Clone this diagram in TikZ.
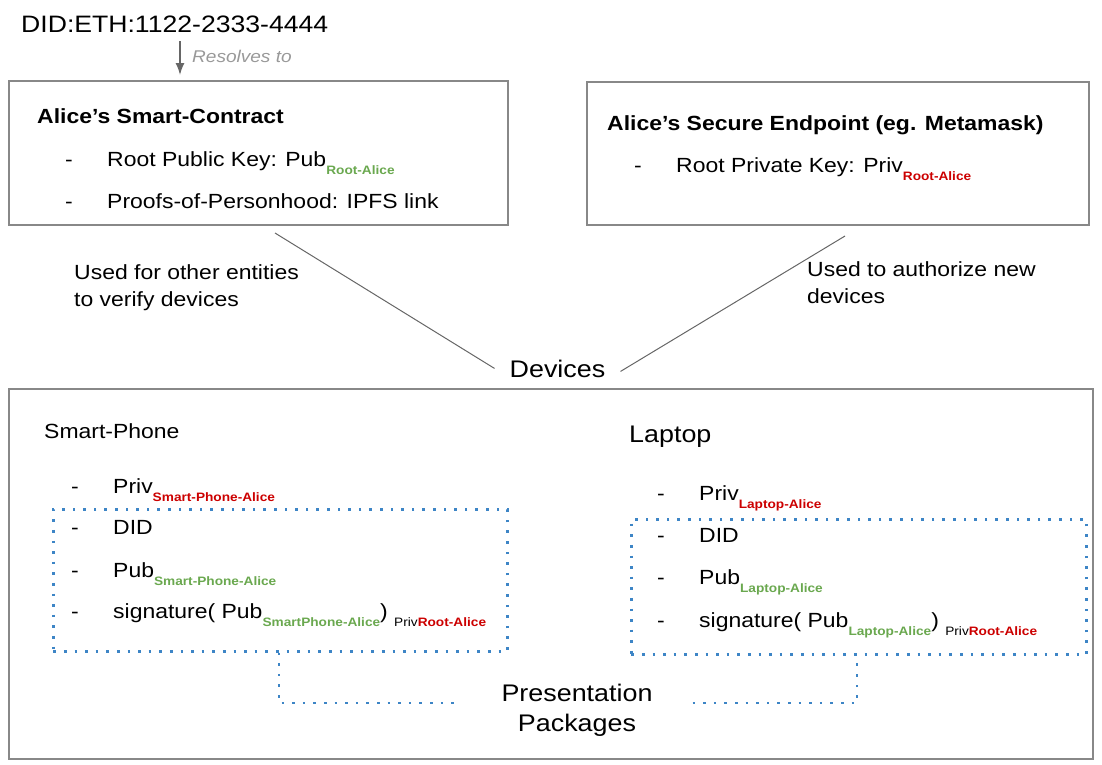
\documentclass[tikz,border=0pt]{standalone}
\usepackage{fontspec}
\setmainfont{Liberation Sans}[FakeStretch=1.12]
\usetikzlibrary{arrows.meta}
\definecolor{boxgray}{HTML}{888888}
\definecolor{linegray}{HTML}{666666}
\definecolor{resolvegray}{HTML}{999999}
\definecolor{keyred}{HTML}{CC0000}
\definecolor{keygreen}{HTML}{6AA84F}
\definecolor{packblue}{HTML}{3D85C6}
\newcommand{\myfont}[1]{\fontsize{#1}{#1}\selectfont}
\newcommand{\mydash}{\makebox[42pt][l]{-}}
\newcommand{\mypriv}[1]{\raisebox{-8.5pt}{\myfont{12.2}\bfseries\color{keyred}#1}}
\newcommand{\mypub}[1]{\raisebox{-8.5pt}{\myfont{12.2}\bfseries\color{keygreen}#1}}
\newcommand{\mysigned}{\raisebox{-8.5pt}{\myfont{12.2}Priv\textbf{\color{keyred}Root-Alice}}}
\tikzset{
    node style box/.style={draw=boxgray,line width=1.5pt,anchor=north west,inner sep=0pt},
    node style pack/.style={draw=packblue,line width=2.6pt,dash pattern=on 2.6pt off 8pt,anchor=north west,inner sep=0pt},
    node style txt/.style={anchor=base west,inner sep=0pt,font=\myfont{20.5}},
    node style big/.style={anchor=base west,inner sep=0pt,font=\myfont{24}},
    line style link/.style={draw=linegray,line width=1pt},
    line style pack/.style={draw=packblue,line width=2.6pt,dash pattern=on 2.6pt off 8pt},
}

\begin{document}
\begin{tikzpicture}[x=1pt,y=-1pt]
\useasboundingbox (0,0) rectangle (1102,764);
% the boxes
\node[node style box,minimum width=499pt,minimum height=144pt] (contract) at (8,80) {};
\node[node style box,minimum width=502pt,minimum height=143pt] (endpoint) at (586,81) {};
\node[node style box,minimum width=1084pt,minimum height=370pt] (devbox) at (8,388) {};
\node[node style pack,minimum width=454pt,minimum height=142pt] (phonepk) at (52,508) {};
\node[node style pack,minimum width=455pt,minimum height=135pt] (laptoppk) at (630,518) {};

% identifier
\node[node style big,font=\myfont{23.75}] (did) at (21,32) {DID:ETH:1122-2333-4444};
\coordinate (resolve) at (180,41);
\draw[linegray,line width=1.5pt,-{Latex[length=12pt,width=9pt]}] (resolve) -- ([xshift=172pt,yshift=5pt]contract.north west);
\node[node style txt,font=\myfont{17}\itshape,text=resolvegray] (res) at (192,62) {Resolves to};

% smart contract
\node[node style txt,font=\myfont{20.5}\bfseries] (contract title) at (37,123) {Alice’s Smart-Contract};
\node[node style txt] (contract pub) at (65,166) {\mydash Root Public Key: Pub\mypub{Root-Alice}};
\node[node style txt] (contract pop) at (65,208) {\mydash Proofs-of-Personhood: IPFS link};

% secure endpoint
\node[node style txt,font=\myfont{20.5}\bfseries] (endpoint title) at (607,130) {Alice’s Secure Endpoint (eg. Metamask)};
\node[node style txt] (endpoint priv) at (634,172) {\mydash Root Private Key: Priv\mypriv{Root-Alice}};

% links to devices
\node[font=\myfont{24},anchor=base,inner xsep=15pt,inner ysep=0pt] (dev) at (557.5,377) {Devices};
\coordinate (link left) at (275,233);
\coordinate (link right) at (845,236);
\draw[line style link] (link left) -- (dev.west);
\draw[line style link] (link right) -- ([yshift=-3pt]dev.east);
\node[node style txt] (verify a) at (74,279) {Used for other entities};
\node[node style txt] (verify b) at (74,306) {to verify devices};
\node[node style txt] (auth a) at (807,276) {Used to authorize new};
\node[node style txt] (auth b) at (807,303) {devices};

% smart-phone
\node[node style txt] (sp) at (44,438) {Smart-Phone};
\node[node style txt] (sp priv) at (71,493) {\mydash Priv\mypriv{Smart-Phone-Alice}};
\node[node style txt] (sp did) at (71,534) {\mydash DID};
\node[node style txt] (sp pub) at (71,577) {\mydash Pub\mypub{Smart-Phone-Alice}};
\node[node style txt] (sp sig) at (71,618) {\mydash signature( Pub\mypub{SmartPhone-Alice}) \mysigned};

% laptop
\node[node style big] (lt) at (629,442) {Laptop};
\node[node style txt] (lt priv) at (657,500) {\mydash Priv\mypriv{Laptop-Alice}};
\node[node style txt] (lt did) at (657,542) {\mydash DID};
\node[node style txt] (lt pub) at (657,584) {\mydash Pub\mypub{Laptop-Alice}};
\node[node style txt] (lt sig) at (657,627) {\mydash signature( Pub\mypub{Laptop-Alice}) \mysigned};

% presentation packages
\node[node style big,anchor=base,inner xsep=40pt] (pres) at (577,701) {Presentation};
\node[node style big,anchor=base] (pack) at (577,731) {Packages};
\draw[line style pack] ([xshift=227pt]phonepk.south west) |- ([yshift=-2pt]pres.base west);
\draw[line style pack] ([yshift=-2pt]pres.base east) -| ([xshift=227pt]laptoppk.south west);
\end{tikzpicture}
\end{document}
